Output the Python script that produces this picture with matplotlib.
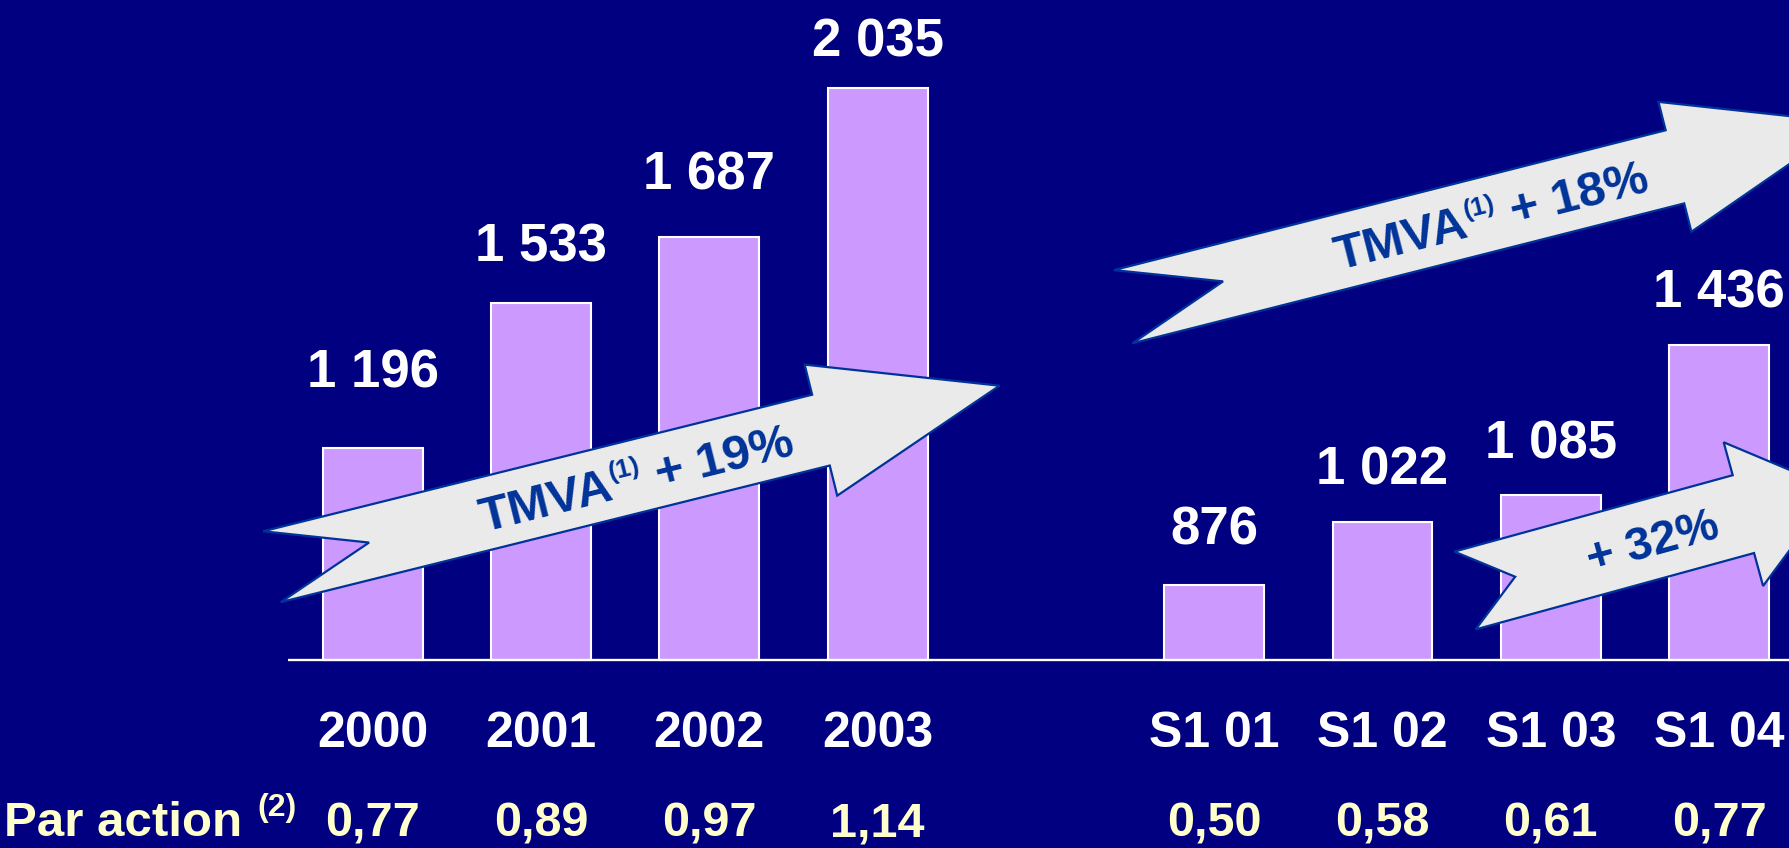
import numpy as np
import matplotlib.pyplot as plt
from matplotlib.patches import Polygon

# data
years = ['2000', '2001', '2002', '2003']
halves = ['S1 01', 'S1 02', 'S1 03', 'S1 04']
year_values = [1196, 1533, 1687, 2035]
half_values = [876, 1022, 1085, 1436]
year_per_share = [0.77, 0.89, 0.97, 1.14]
half_per_share = [0.50, 0.58, 0.61, 0.77]
growth_labels = [('TMVA', '(1)', ' + 19%'), ('TMVA', '(1)', ' + 18%'), ('+ 32%', '', '')]

# layout (pixels of the 1789x848 picture)
W, H = 1789, 848
X0_PX, STEP_PX = 372.7, 168.3     # centre of first bar, bar spacing
BASE_PX, Y0, PX_PER_UNIT = 660, 700, 0.4284
label_gap_px = [60, 42, 48, 32, 40, 38, 37, 37]

NAVY = '#000080'
BAR = '#CC99FF'
ARROW_FILL = '#EAEAEA'
ARROW_EDGE = '#003399'
YELLOW = '#FFFFCC'

plt.rcParams['font.family'] = ['Liberation Sans', 'DejaVu Sans']
plt.rcParams['font.weight'] = 'bold'

labels = years + halves
values = year_values + half_values
per_share = year_per_share + half_per_share
pos = list(range(len(years))) + list(range(len(years) + 1, len(years) + 1 + len(halves)))

fig = plt.figure(figsize=(W / 100, H / 100), dpi=100, facecolor=NAVY)
ax = fig.add_axes([0, 0, 1, 1])
ax.set_facecolor(NAVY)
ax.set_xlim(-X0_PX / STEP_PX, (W - X0_PX) / STEP_PX)
ax.set_ylim(Y0 - (H - BASE_PX) / PX_PER_UNIT, Y0 + BASE_PX / PX_PER_UNIT)
ax.axis('off')

ax.bar(pos, np.array(values) - Y0, bottom=Y0, width=0.594,
       color=BAR, edgecolor='white', linewidth=1.5, zorder=2)
ax.plot([-0.505, pos[-1] + 1], [Y0, Y0], color='white', lw=1.7, zorder=3,
        solid_capstyle='butt')

for p, v, g in zip(pos, values, label_gap_px):
    ax.annotate(f'{v:,}'.replace(',', ' '), xy=(p, v), xytext=(0, g * 0.72),
                textcoords='offset points', ha='center', va='baseline',
                color='white', fontsize=38, fontweight='bold')

xt = ax.get_xaxis_transform()
for p, lab in zip(pos, labels):
    ax.text(p, 1 - 747 / H, lab, transform=xt, ha='center', va='baseline',
            color='white', fontsize=36, fontweight='bold')
for p, s in zip(pos, per_share):
    ax.text(p, 1 - 836 / H, f'{s:.2f}'.replace('.', ','), transform=xt,
            ha='center', va='baseline', color=YELLOW, fontsize=35, fontweight='bold')

fig.text(4 / W, 1 - 836 / H, 'Par action', ha='left', va='baseline',
         color=YELLOW, fontsize=35.5, fontweight='bold')
fig.text(257 / W, 1 - 816 / H, '(2)', ha='left', va='baseline',
         color=YELLOW, fontsize=23, fontweight='bold')

# overlay in pixel coordinates for the growth arrows
ov = fig.add_axes([0, 0, 1, 1], zorder=5)
ov.set_xlim(0, W)
ov.set_ylim(H, 0)
ov.axis('off')
ov.patch.set_alpha(0)
renderer = fig.canvas.get_renderer()


def fat_arrow(tail, tip, shaft_w, head_w, head_len, notch, parts, text_at, size):
    tail = np.array(tail, float)
    tip = np.array(tip, float)
    d = tip - tail
    u = d / np.hypot(*d)
    n = np.array([u[1], -u[0]])      # "up" across the arrow
    base = tip - u * head_len
    pts = [tail + n * shaft_w / 2, base + n * shaft_w / 2, base + n * head_w / 2, tip,
           base - n * head_w / 2, base - n * shaft_w / 2, tail - n * shaft_w / 2,
           tail + u * notch]
    ov.add_patch(Polygon(pts, closed=True, fc=ARROW_FILL, ec=ARROW_EDGE, lw=1.6,
                         joinstyle='miter'))

    # label: main text, small raised note, main text, laid along the shaft
    ang = np.degrees(np.arctan2(-u[1], u[0]))
    em = size * 100 / 72
    sizes = [size, size * 0.53, size]
    raises = [0, 0.4 * em, 0]
    texts = []
    for s, fs in zip(parts, sizes):
        t = ov.text(0, 0, s, fontsize=fs, fontweight='bold', color=ARROW_EDGE,
                    rotation=ang, rotation_mode='anchor', ha='left', va='baseline')
        texts.append(t)
    widths = []
    for t in texts:
        t.set_rotation(0)
        widths.append(t.get_window_extent(renderer).width if t.get_text() else 0)
        t.set_rotation(ang)
    c = tail + u * text_at - n * (0.716 * em / 2)
    x = -sum(widths) / 2
    for t, w, r in zip(texts, widths, raises):
        p = c + u * x + n * r
        t.set_position((p[0], p[1]))
        x += w


fat_arrow((272, 566.7), (999.5, 385.7), 73, 135, 184, 100, growth_labels[0], 375, 35.5)
fat_arrow((1123.2, 306.7), (1849.4, 122.6), 75.5, 134, 180, 103, growth_labels[1], 379, 35.5)
fat_arrow((1465, 590.5), (1835, 489), 80.7, 149, 95, 52, growth_labels[2], 194, 34)

fig.savefig('out.png', dpi=100, facecolor=fig.get_facecolor())
